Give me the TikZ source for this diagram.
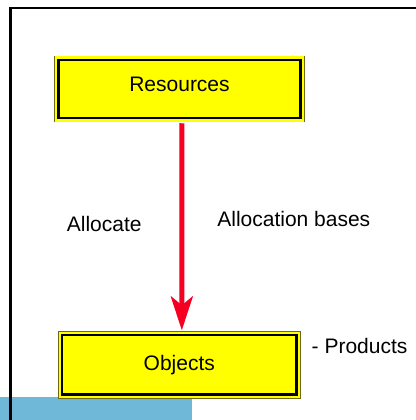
\documentclass[tikz,border=0pt]{standalone}
\usepackage{fontspec}
\setmainfont{Liberation Sans}
\usepackage{xcolor}
\usetikzlibrary{arrows.meta}

\definecolor{boxyellow}{RGB}{255,255,0}
\definecolor{boxedge}{RGB}{110,105,20}
\definecolor{arrowred}{RGB}{245,0,35}
\definecolor{stripblue}{RGB}{111,184,216}

\begin{document}
\begin{tikzpicture}[x=1pt, y=-1pt,
  every node/.style={font=\fontsize{21}{25}\selectfont},
  costbox/.style={fill=boxyellow, draw=black, line width=2.5pt,
    preaction={draw=boxedge, line width=8.2pt},
    preaction={draw=boxyellow, line width=7pt},
    inner sep=0pt},
  alloc/.style={arrowred, line width=5pt, -{Stealth[length=34pt, width=22pt, inset=9pt]}},
  lbl/.style={inner sep=0pt, anchor=base}]
\useasboundingbox (0,0) rectangle (415,420);
\fill[stripblue] (0,396.7) rectangle (191.7,420);
\draw[black, line width=2.8pt] (10.8,430) |- (430,8);
\node[costbox, minimum width=242pt, minimum height=58pt, text height=13pt, text depth=7pt] (res) at (179.5,89) {Resources};
\node[costbox, minimum width=234.5pt, minimum height=59.5pt] (obj) at (179.3,364.8) {Objects};
\draw[alloc, shorten <=4pt, shorten >=3.5pt] ([xshift=2.5pt]res.south) -- ([xshift=2.5pt]obj.north);
\node[lbl] (alloclbl) at (104.2,231) {Allocate};
\node[lbl] (baselbl) at (293.8,226.7) {Allocation bases};
\node[lbl, anchor=base west] (prodlbl) at (311.5,353.3) {- Products};
\end{tikzpicture}
\end{document}
